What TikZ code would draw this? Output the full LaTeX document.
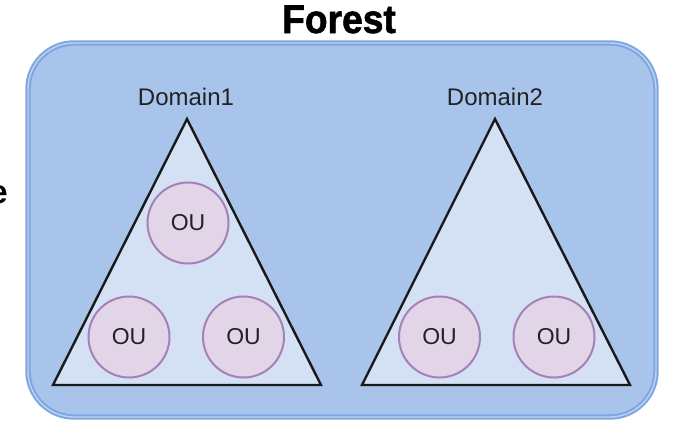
\documentclass[tikz,border=0pt]{standalone}
\usepackage{fontspec}
\setmainfont{Liberation Sans}
\definecolor{boxfill}{HTML}{A9C4EB}
\definecolor{boxline}{HTML}{7EA6E0}
\definecolor{boxinner}{HTML}{BCD2F2}
\definecolor{trifill}{HTML}{D4E1F5}
\definecolor{oufill}{HTML}{E1D5E7}
\definecolor{ouline}{HTML}{A680B8}
\definecolor{txt}{HTML}{222222}
\begin{document}
\begin{tikzpicture}[x=1pt,y=-1pt,
  forestbox/.style={draw=boxline, line width=2pt, double=boxinner, double distance=1.4pt, fill=boxfill, rounded corners=46pt},
  domaintri/.style={draw=black!90, line width=2.4pt, fill=trifill, line join=miter},
  ou/.style={circle, draw=ouline, line width=2pt, fill=oufill, minimum size=81pt, inner sep=0pt, text=txt, font=\fontsize{23}{26}\selectfont},
  lbl/.style={text=txt, font=\fontsize{24}{28}\selectfont, anchor=base, inner sep=0pt},
  title/.style={font=\fontsize{40}{44}\selectfont\bfseries, anchor=base, inner sep=0pt}]
\useasboundingbox (0,0) rectangle (682,439);
\path[forestbox] (28,43) rectangle (656,417);
\node[title] (forest) at (339,33) {\addfontfeatures{FakeBold=1.5}\scalebox{0.93}[1]{Forest}};
\node[font=\fontsize{33}{36}\selectfont\bfseries, anchor=base east, inner sep=0pt] (cut) at (8,203) {e};
% domain 1
\path[domaintri] (187,119) -- (321,385) -- (53,385) -- cycle;
\node[lbl] (d1) at (186,105) {Domain1};
\node[ou] (ou1) at (188,223) {OU};
\node[ou] (ou2) at (129,337) {OU};
\node[ou] (ou3) at (243.5,337) {OU};
% domain 2
\path[domaintri] (495,119) -- (630,385) -- (362,385) -- cycle;
\node[lbl] (d2) at (495,105) {Domain2};
\node[ou] (ou4) at (439.5,337) {OU};
\node[ou] (ou5) at (554,337) {OU};
\end{tikzpicture}
\end{document}
